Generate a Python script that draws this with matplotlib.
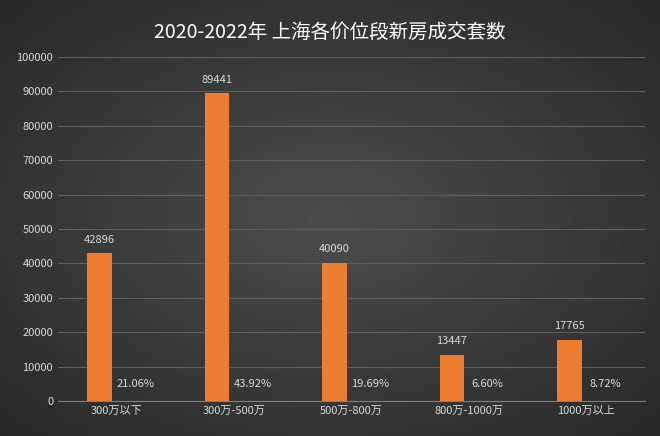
import matplotlib.pyplot as plt
from matplotlib import font_manager
import numpy as np

categories = ['300万以下', '300万-500万', '500万-800万', '800万-1000万', '1000万以上']
counts = [42896, 89441, 40090, 13447, 17765]
shares = ['21.06%', '43.92%', '19.69%', '6.60%', '8.72%']

# pick whatever CJK family is actually registered
cjk = [f.name for f in font_manager.fontManager.ttflist if 'CJK' in f.name]
plt.rcParams['font.family'] = sorted(set(cjk))[:1] + ['DejaVu Sans']

fig = plt.figure(figsize=(6.6, 4.36), dpi=100)

# radial background
bg = fig.add_axes([0, 0, 1, 1])
yy, xx = np.mgrid[-1:1:200j, -1:1:300j]
r = np.sqrt(xx**2 + yy**2)
bg.imshow(0.30 - 0.10 * r, cmap='gray', vmin=0, vmax=1, aspect='auto',
          extent=[0, 1, 0, 1])
bg.axis('off')

ax = fig.add_axes([58/660, 35/436, 587/660, 344/436])
ax.patch.set_alpha(0)
x = np.arange(len(categories))
ax.bar(x - 0.145, counts, width=0.21, color='#ed7d31', zorder=3)
for i, v in enumerate(counts):
    ax.text(x[i] - 0.145, v + 2500, str(v), ha='center', va='bottom',
            color='#d9d9d9', fontsize=8)
    ax.text(x[i] + 0.16, 4800, shares[i], ha='center', va='center',
            color='#d9d9d9', fontsize=8)

ax.set_xlim(-0.5, len(categories) - 0.5)
ax.set_ylim(0, 100000)
ax.set_yticks(range(0, 100001, 10000))
ax.set_xticks(x)
ax.set_xticklabels(categories)
ax.tick_params(colors='#d9d9d9', labelsize=8, length=0)
ax.grid(axis='y', color='#5e5e5e', linewidth=0.8, zorder=0)
for s in ['top', 'right', 'left']:
    ax.spines[s].set_visible(False)
ax.spines['bottom'].set_color('#7f7f7f')

fig.text(0.5, 0.925, '2020-2022年 上海各价位段新房成交套数', ha='center',
         va='center', color='white', fontsize=14)

fig.savefig('out.png', dpi=100)
